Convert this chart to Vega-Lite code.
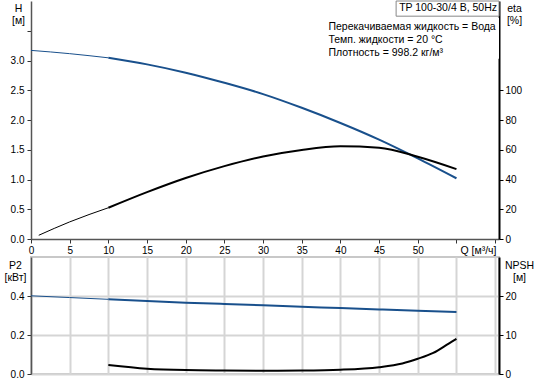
{
  "$schema": "https://vega.github.io/schema/vega-lite/v6.json",
  "padding": {"left": 3, "top": 0, "right": 0, "bottom": 0},
  "background": "white",
  "config": {
    "font": "Liberation Sans",
    "view": {"stroke": null},
    "axis": {
      "labelFont": "Liberation Sans", "labelFontSize": 10, "labelColor": "#000",
      "titleFont": "Liberation Sans", "titleFontSize": 10.5, "titleFontWeight": "normal", "titleColor": "#000",
      "gridColor": "#d5d5d5", "gridWidth": 2, "tickColor": "#333", "tickSize": 4,
      "domainColor": "#555", "domainWidth": 1.5, "labelFlush": false, "labelOverlap": false,
      "titleAngle": 0, "titleLineHeight": 12.5, "titleBaseline": "top", "titleAlign": "center"
    }
  },
  "datasets": {
    "curves": [
      {"curve": "H", "part": "ext", "Q": 0, "v": 3.17},
      {"curve": "H", "part": "ext", "Q": 5, "v": 3.115},
      {"curve": "H", "part": "ext", "Q": 10, "v": 3.045},
      {"curve": "H", "part": "op", "Q": 10, "v": 3.045},
      {"curve": "H", "part": "op", "Q": 15, "v": 2.935},
      {"curve": "H", "part": "op", "Q": 20, "v": 2.795},
      {"curve": "H", "part": "op", "Q": 25, "v": 2.625},
      {"curve": "H", "part": "op", "Q": 30, "v": 2.435},
      {"curve": "H", "part": "op", "Q": 35, "v": 2.205},
      {"curve": "H", "part": "op", "Q": 40, "v": 1.95},
      {"curve": "H", "part": "op", "Q": 45, "v": 1.67},
      {"curve": "H", "part": "op", "Q": 50, "v": 1.355},
      {"curve": "H", "part": "op", "Q": 55, "v": 1.02},
      {"curve": "eta", "part": "ext", "Q": 1, "v": 2.5},
      {"curve": "eta", "part": "ext", "Q": 5, "v": 11.5},
      {"curve": "eta", "part": "ext", "Q": 10, "v": 21},
      {"curve": "eta", "part": "op", "Q": 10, "v": 21},
      {"curve": "eta", "part": "op", "Q": 15, "v": 31.5},
      {"curve": "eta", "part": "op", "Q": 20, "v": 41},
      {"curve": "eta", "part": "op", "Q": 25, "v": 49},
      {"curve": "eta", "part": "op", "Q": 30, "v": 55.5},
      {"curve": "eta", "part": "op", "Q": 35, "v": 59.9},
      {"curve": "eta", "part": "op", "Q": 40, "v": 62.3},
      {"curve": "eta", "part": "op", "Q": 45, "v": 61.4},
      {"curve": "eta", "part": "op", "Q": 50, "v": 55.3},
      {"curve": "eta", "part": "op", "Q": 55, "v": 47},
      {"curve": "P2", "part": "ext", "Q": 0, "v": 0.401},
      {"curve": "P2", "part": "ext", "Q": 5, "v": 0.392},
      {"curve": "P2", "part": "ext", "Q": 10, "v": 0.383},
      {"curve": "P2", "part": "op", "Q": 10, "v": 0.383},
      {"curve": "P2", "part": "op", "Q": 15, "v": 0.374},
      {"curve": "P2", "part": "op", "Q": 20, "v": 0.366},
      {"curve": "P2", "part": "op", "Q": 25, "v": 0.359},
      {"curve": "P2", "part": "op", "Q": 30, "v": 0.352},
      {"curve": "P2", "part": "op", "Q": 35, "v": 0.345},
      {"curve": "P2", "part": "op", "Q": 40, "v": 0.338},
      {"curve": "P2", "part": "op", "Q": 45, "v": 0.331},
      {"curve": "P2", "part": "op", "Q": 50, "v": 0.324},
      {"curve": "P2", "part": "op", "Q": 55, "v": 0.318},
      {"curve": "NPSH", "part": "op", "Q": 10, "v": 2.3},
      {"curve": "NPSH", "part": "op", "Q": 15, "v": 1.35},
      {"curve": "NPSH", "part": "op", "Q": 20, "v": 1.0},
      {"curve": "NPSH", "part": "op", "Q": 25, "v": 0.9},
      {"curve": "NPSH", "part": "op", "Q": 30, "v": 0.85},
      {"curve": "NPSH", "part": "op", "Q": 35, "v": 0.9},
      {"curve": "NPSH", "part": "op", "Q": 40, "v": 1.1},
      {"curve": "NPSH", "part": "op", "Q": 45, "v": 1.75},
      {"curve": "NPSH", "part": "op", "Q": 48, "v": 2.7},
      {"curve": "NPSH", "part": "op", "Q": 50, "v": 3.9},
      {"curve": "NPSH", "part": "op", "Q": 52, "v": 5.4},
      {"curve": "NPSH", "part": "op", "Q": 54, "v": 7.8},
      {"curve": "NPSH", "part": "op", "Q": 55, "v": 9.0}
    ]
  },
  "bounds": "flush",
  "spacing": 18,
  "vconcat": [
    {
      "width": 468,
      "height": 238,
      "data": {"name": "curves"},
      "resolve": {"scale": {"y": "independent"}, "axis": {"y": "independent"}},
      "layer": [
        {
          "layer": [
            {
              "data": {"values": [{}]},
              "mark": {"type": "rect", "fill": "white", "stroke": null},
              "encoding": {
                "x": {"datum": 38.2, "type": "quantitative", "scale": {"domain": [0, 60.5], "nice": false, "zero": false},
                  "axis": {"values": [0, 5, 10, 15, 20, 25, 30, 35, 40, 45, 50, 55, 60], "labelExpr": "datum.value > 52 ? '' : datum.label", "title": "Q [м³/ч]", "titleX": 465, "titleY": 6, "titleAlign": "right", "titleBaseline": "top", "labelPadding": 2, "domainColor": "#555"}},
                "x2": {"datum": 60.5},
                "y": {"datum": 3.03, "type": "quantitative", "scale": {"domain": [0, 4], "nice": false},
                  "axis": {"orient": "left", "values": [0, 0.5, 1, 1.5, 2, 2.5, 3, 3.5], "format": ".1f", "labelExpr": "datum.value > 3.2 ? '' : datum.label", "labelPadding": 3, "title": ["H", "[м]"], "titleX": -13, "titleY": 2}},
                "y2": {"datum": 3.72}
              }
            },
            {
              "data": {"values": [{}]},
              "mark": {"type": "rect", "fill": "white", "stroke": "#888", "strokeWidth": 1},
              "encoding": {
                "x": {"datum": 47.2, "type": "quantitative", "scale": {"domain": [0, 60.5], "nice": false, "zero": false},
                  "axis": {"values": [0, 5, 10, 15, 20, 25, 30, 35, 40, 45, 50, 55, 60], "labelExpr": "datum.value > 52 ? '' : datum.label", "title": "Q [м³/ч]", "titleX": 465, "titleY": 6, "titleAlign": "right", "titleBaseline": "top", "labelPadding": 2, "domainColor": "#555"}},
                "x2": {"datum": 60.5},
                "y": {"datum": 3.745, "type": "quantitative", "scale": {"domain": [0, 4], "nice": false},
                  "axis": {"orient": "left", "values": [0, 0.5, 1, 1.5, 2, 2.5, 3, 3.5], "format": ".1f", "labelExpr": "datum.value > 3.2 ? '' : datum.label", "labelPadding": 3, "title": ["H", "[м]"], "titleX": -13, "titleY": 2}},
                "y2": {"datum": 4.0}
              }
            },
            {
              "data": {"values": [{}]},
              "mark": {"type": "text", "text": "TP 100-30/4 B, 50Hz", "align": "right", "baseline": "top", "dx": -2, "dy": 2, "fontSize": 10.5, "font": "Liberation Sans", "color": "#000"},
              "encoding": {
                "x": {"datum": 60.5, "type": "quantitative", "scale": {"domain": [0, 60.5], "nice": false, "zero": false},
                  "axis": {"values": [0, 5, 10, 15, 20, 25, 30, 35, 40, 45, 50, 55, 60], "labelExpr": "datum.value > 52 ? '' : datum.label", "title": "Q [м³/ч]", "titleX": 465, "titleY": 6, "titleAlign": "right", "titleBaseline": "top", "labelPadding": 2, "domainColor": "#555"}},
                "y": {"datum": 4.0, "type": "quantitative", "scale": {"domain": [0, 4], "nice": false},
                  "axis": {"orient": "left", "values": [0, 0.5, 1, 1.5, 2, 2.5, 3, 3.5], "format": ".1f", "labelExpr": "datum.value > 3.2 ? '' : datum.label", "labelPadding": 3, "title": ["H", "[м]"], "titleX": -13, "titleY": 2}}
              }
            },
            {
              "data": {"values": [{}]},
              "mark": {"type": "text", "text": ["Перекачиваемая жидкость = Вода", "Темп. жидкости = 20 °C", "Плотность = 998.2 кг/м³"], "align": "left", "baseline": "top", "lineHeight": 13, "fontSize": 10.5, "font": "Liberation Sans", "color": "#000"},
              "encoding": {
                "x": {"datum": 38.45, "type": "quantitative", "scale": {"domain": [0, 60.5], "nice": false, "zero": false},
                  "axis": {"values": [0, 5, 10, 15, 20, 25, 30, 35, 40, 45, 50, 55, 60], "labelExpr": "datum.value > 52 ? '' : datum.label", "title": "Q [м³/ч]", "titleX": 465, "titleY": 6, "titleAlign": "right", "titleBaseline": "top", "labelPadding": 2, "domainColor": "#555"}},
                "y": {"datum": 3.65, "type": "quantitative", "scale": {"domain": [0, 4], "nice": false},
                  "axis": {"orient": "left", "values": [0, 0.5, 1, 1.5, 2, 2.5, 3, 3.5], "format": ".1f", "labelExpr": "datum.value > 3.2 ? '' : datum.label", "labelPadding": 3, "title": ["H", "[м]"], "titleX": -13, "titleY": 2}}
              }
            },
            {
              "transform": [{"filter": "datum.curve === 'H'"}],
              "mark": {"type": "line", "color": "#19508c", "interpolate": "monotone"},
              "encoding": {
                "x": {"field": "Q", "type": "quantitative", "scale": {"domain": [0, 60.5], "nice": false, "zero": false},
                  "axis": {"values": [0, 5, 10, 15, 20, 25, 30, 35, 40, 45, 50, 55, 60], "labelExpr": "datum.value > 52 ? '' : datum.label", "title": "Q [м³/ч]", "titleX": 465, "titleY": 6, "titleAlign": "right", "titleBaseline": "top", "labelPadding": 2, "domainColor": "#555"}},
                "y": {"field": "v", "type": "quantitative", "scale": {"domain": [0, 4], "nice": false},
                  "axis": {"orient": "left", "values": [0, 0.5, 1, 1.5, 2, 2.5, 3, 3.5], "format": ".1f", "labelExpr": "datum.value > 3.2 ? '' : datum.label", "labelPadding": 3, "title": ["H", "[м]"], "titleX": -13, "titleY": 2}},
                "strokeWidth": {"field": "part", "type": "ordinal", "scale": {"domain": ["ext", "op"], "range": [1, 2]}, "legend": null}
              }
            }
          ]
        },
        {
          "transform": [{"filter": "datum.curve === 'eta'"}],
          "mark": {"type": "line", "color": "#000", "interpolate": "monotone"},
          "encoding": {
            "x": {"field": "Q", "type": "quantitative", "scale": {"domain": [0, 60.5], "nice": false, "zero": false},
              "axis": {"values": [0, 5, 10, 15, 20, 25, 30, 35, 40, 45, 50, 55, 60], "labelExpr": "datum.value > 52 ? '' : datum.label", "title": "Q [м³/ч]", "titleX": 465, "titleY": 6, "titleAlign": "right", "titleBaseline": "top", "labelPadding": 2, "domainColor": "#555"}},
            "y": {
              "field": "v", "type": "quantitative",
              "scale": {"domain": [0, 160], "nice": false},
              "axis": {
                "orient": "right", "grid": false,
                "values": [0, 20, 40, 60, 80, 100],
                "labelPadding": 2, "domainColor": "#000", "domainWidth": 2, "tickColor": "#000",
                "title": ["eta", "[%]"], "titleX": 15, "titleY": 2
              }
            },
            "strokeWidth": {"field": "part", "type": "ordinal", "scale": {"domain": ["ext", "op"], "range": [1, 2]}, "legend": null}
          }
        }
      ]
    },
    {
      "width": 468,
      "height": 117,
      "view": {"stroke": "#c8c8c8", "strokeWidth": 2},
      "data": {"name": "curves"},
      "resolve": {"scale": {"y": "independent"}, "axis": {"y": "independent"}},
      "layer": [
        {
          "transform": [{"filter": "datum.curve === 'P2'"}],
          "mark": {"type": "line", "color": "#19508c", "interpolate": "monotone"},
          "encoding": {
            "x": {"field": "Q", "type": "quantitative", "scale": {"domain": [0, 60.5], "nice": false, "zero": false},
              "axis": {"values": [0, 5, 10, 15, 20, 25, 30, 35, 40, 45, 50, 55, 60], "labels": false, "ticks": false, "domain": false, "title": null}},
            "y": {
              "field": "v", "type": "quantitative",
              "scale": {"domain": [0, 0.6], "nice": false},
              "axis": {
                "orient": "left",
                "values": [0, 0.2, 0.4],
                "format": ".1f",
                "labelPadding": 3,
                "title": ["P2", "[кВт]"], "titleX": -16, "titleY": 3
              }
            },
            "strokeWidth": {"field": "part", "type": "ordinal", "scale": {"domain": ["ext", "op"], "range": [1, 2]}, "legend": null}
          }
        },
        {
          "transform": [{"filter": "datum.curve === 'NPSH'"}],
          "mark": {"type": "line", "color": "#000", "interpolate": "monotone"},
          "encoding": {
            "x": {"field": "Q", "type": "quantitative", "scale": {"domain": [0, 60.5], "nice": false, "zero": false},
              "axis": {"values": [0, 5, 10, 15, 20, 25, 30, 35, 40, 45, 50, 55, 60], "labels": false, "ticks": false, "domain": false, "title": null}},
            "y": {
              "field": "v", "type": "quantitative",
              "scale": {"domain": [0, 30], "nice": false},
              "axis": {
                "orient": "right", "grid": false,
                "values": [0, 10, 20],
                "labelPadding": 2, "domainColor": "#000", "domainWidth": 2, "tickColor": "#000",
                "title": ["NPSH", "[м]"], "titleX": 20, "titleY": 3
              }
            },
            "strokeWidth": {"field": "part", "type": "ordinal", "scale": {"domain": ["ext", "op"], "range": [1, 2]}, "legend": null}
          }
        }
      ]
    }
  ]
}
